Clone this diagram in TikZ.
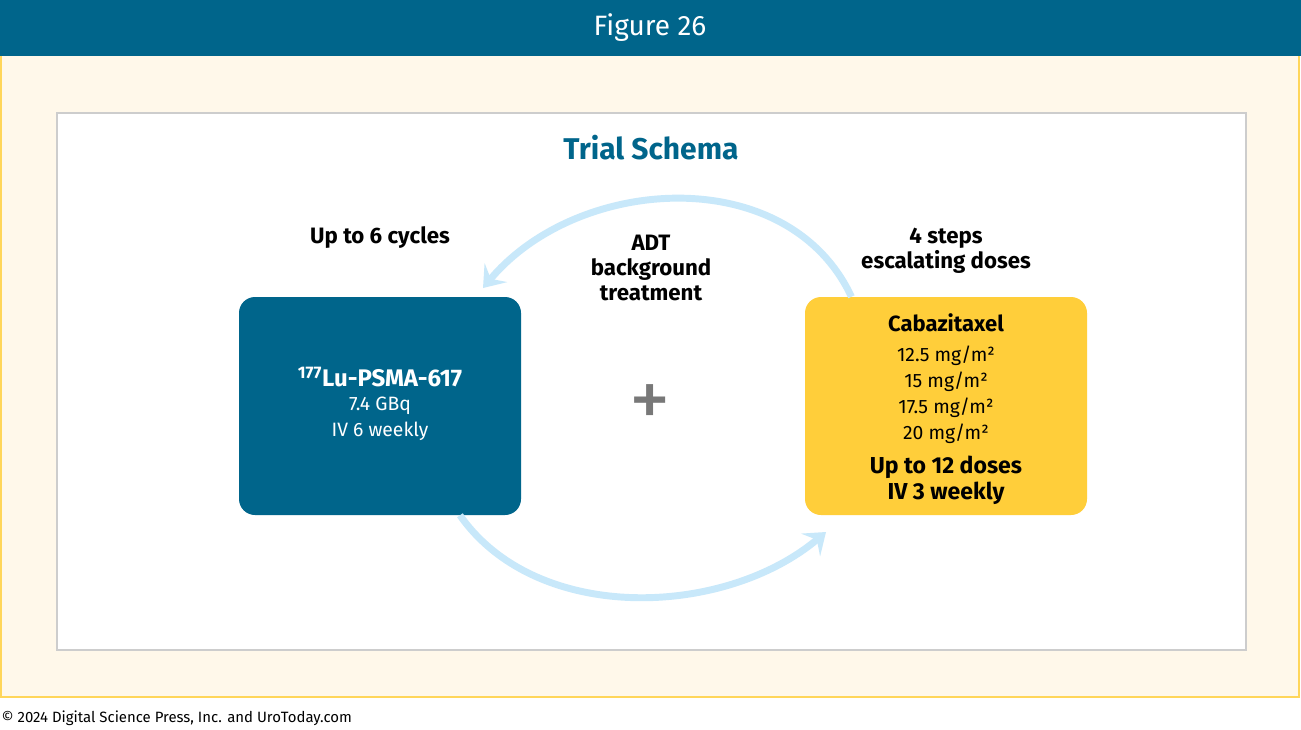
\documentclass[tikz,border=0pt]{standalone}
\usepackage{fontspec}
\setmainfont{Fira Sans}
\usetikzlibrary{arrows.meta,positioning}
\definecolor{HeaderBlue}{RGB}{0,101,139}
\definecolor{PanelCream}{RGB}{255,248,234}
\definecolor{PanelYellow}{RGB}{255,214,90}
\definecolor{FrameGray}{RGB}{205,205,205}
\definecolor{CabazYellow}{RGB}{255,206,58}
\definecolor{CycleBlue}{RGB}{200,232,250}
\definecolor{PlusGray}{RGB}{120,120,120}

\begin{document}
\begin{tikzpicture}[
  x=0.75pt, y=0.75pt,
  cycle/.style={-{Stealth[length=15pt, width=22pt, inset=6pt]},
                line width=5.2pt, draw=CycleBlue},
  drugbox/.style={rounded corners=12pt, align=center, inner sep=0pt,
                  minimum width=211.5pt, minimum height=163.5pt},
  label/.style={align=center, font=\fontsize{16.7}{18.5}\selectfont\bfseries},
  dose/.style={font=\fontsize{14.5}{19.5}\selectfont}
]
\useasboundingbox (0,0) rectangle (1301,-729);

% Page panels.
\fill[PanelCream] (1,-56) rectangle (1299,-697);
\draw[PanelYellow, line width=1.5pt] (1,-56) -- (1,-697) -- (1299,-697) -- (1299,-56);
\fill[HeaderBlue] (0,0) rectangle (1301,-56);
\draw[FrameGray, fill=white, line width=1.5pt] (57,-113) rectangle (1246,-650);

\node[text=white, font=\fontsize{21}{24}\selectfont] (figtitle) at (650,-28) {Figure 26};
\node[text=HeaderBlue, font=\fontsize{22.5}{26}\selectfont\bfseries] (schema) at (651,-148) {Trial Schema};

% Treatment arms.
\node[drugbox, fill=HeaderBlue, text=white] (lu) at (380,-406) {};
\node[text=white, font=\fontsize{18}{20}\selectfont\bfseries] (luname) at (380,-377)
  {\textsuperscript{177}Lu-PSMA-617};
\node[dose, text=white, below=0pt of luname, align=center] (ludose) {7.4 GBq\\IV 6 weekly};

\node[drugbox, fill=CabazYellow] (cabaz) at (946,-406) {};
\node[font=\fontsize{16.5}{19}\selectfont\bfseries] (cabname) at (946,-323) {Cabazitaxel};
\node[dose, align=center, below=3.5pt of cabname] (cabdose)
  {12.5 mg/m²\\15 mg/m²\\17.5 mg/m²\\20 mg/m²};
\node[label, font=\fontsize{17.3}{19.5}\selectfont\bfseries, below=2pt of cabdose] (cabcycle)
  {Up to 12 doses\\IV 3 weekly};

\node[text=PlusGray, font=\fontsize{62}{62}\selectfont] (plus) at (650,-406) {+};

% Labels round the cycle.
\node[label] (cycles) at (380,-238) {Up to 6 cycles};
\node[label] (adt) at (651,-268) {ADT\\background\\treatment};
\node[label] (steps) at (946,-251) {4 steps\\escalating doses};

% Cycle arrows.
\coordinate (cyclestip) at (483,-288);
\coordinate (stepstip) at (826,-532);
\draw[cycle] ([xshift=35pt]cabaz.north west) to[out=115,in=50,looseness=1.03] (cyclestip);
\draw[cycle] ([xshift=-46pt]lu.south east) to[out=-55,in=220,looseness=0.93] (stepstip);

\node[anchor=west, inner sep=1pt, font=\fontsize{11.2}{14}\selectfont] (copyright) at (0,-718)
  {© 2024 Digital Science Press, Inc. and UroToday.com};
\end{tikzpicture}
\end{document}
